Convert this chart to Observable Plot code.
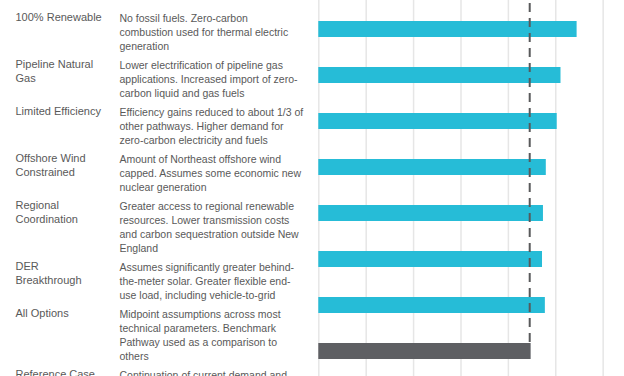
<!DOCTYPE html>
<html><head><meta charset="utf-8">
<script src="https://cdn.jsdelivr.net/npm/d3@7"></script>
<script src="https://cdn.jsdelivr.net/npm/@observablehq/plot@0.6"></script>
<style>body{margin:0;background:#fff} svg{display:block}</style>
</head><body><div id="chart"></div>
<script>
const labels = [
  "100% Renewable",
  "Pipeline Natural\nGas",
  "Limited Efficiency",
  "Offshore Wind\nConstrained",
  "Regional\nCoordination",
  "DER\nBreakthrough",
  "All Options",
  "Reference Case"
];
const descriptions = [
  "No fossil fuels. Zero-carbon\ncombustion used for thermal electric\ngeneration",
  "Lower electrification of pipeline gas\napplications. Increased import of zero-\ncarbon liquid and gas fuels",
  "Efficiency gains reduced to about 1/3 of\nother pathways. Higher demand for\nzero-carbon electricity and fuels",
  "Amount of Northeast offshore wind\ncapped. Assumes some economic new\nnuclear generation",
  "Greater access to regional renewable\nresources. Lower transmission costs\nand carbon sequestration outside New\nEngland",
  "Assumes significantly greater behind-\nthe-meter solar. Greater flexible end-\nuse load, including vehicle-to-grid",
  "Midpoint assumptions across most\ntechnical parameters. Benchmark\nPathway used as a comparison to\nothers",
  "Continuation of current demand and"
];
const values = [5.45, 5.11, 5.03, 4.80, 4.74, 4.72, 4.78, 4.48];
const kinds = ["pathway","pathway","pathway","pathway","pathway","pathway","pathway","reference"];
const benchmark = 4.45;
const xTicks = [0, 1, 2, 3, 4, 5, 6];

const bars = labels.map((l, i) => ({label: l, value: values[i], kind: kinds[i]}));

// text row layout, computed from line counts
const lineH = 14, rowGap = 5, firstTop = 11;
let rowTop = firstTop;
const rows = labels.map((l, i) => {
  const n = Math.max(l.split("\n").length, descriptions[i].split("\n").length);
  const r = {label: l, desc: descriptions[i], y0: rowTop};
  rowTop += n * lineH + rowGap;
  return r;
});
const textStyle = {frameAnchor: "top-left", textAnchor: "start", lineAnchor: "top", fill: "#595959"};
const textMarks = rows.flatMap(r => [
  Plot.text([r.label], {...textStyle, fontSize: 11, lineHeight: lineH / 11, text: d => d, dx: 15, dy: r.y0}),
  Plot.text([r.desc], {...textStyle, fontSize: 10.5, lineHeight: lineH / 10.5, text: d => d, dx: 119, dy: r.y0 + 0.3})
]);

const chart = Plot.plot({
  width: 624, height: 376, margin: 0,
  style: {fontFamily: "'Liberation Sans', Arial, sans-serif", background: "#fff"},
  x: {domain: [0, 6.45], range: [318.3, 624], axis: null},
  y: {domain: labels, range: [4.25, 376.25], paddingInner: 0.656, paddingOuter: 0.328, axis: null},
  color: {domain: ["pathway", "reference"], range: ["#26bcd7", "#5e5f63"]},
  marks: [
    Plot.ruleX(xTicks, {stroke: "#e6e6e6", strokeWidth: 1.5}),
    Plot.barX(bars, {x: "value", y: "label", fill: "kind"}),
    Plot.ruleX([benchmark], {stroke: "#58595b", strokeWidth: 2, strokeDasharray: "9,6", insetTop: 3, insetBottom: 31}),
    ...textMarks
  ]
});
document.getElementById("chart").appendChild(chart);
</script>
</body></html>
